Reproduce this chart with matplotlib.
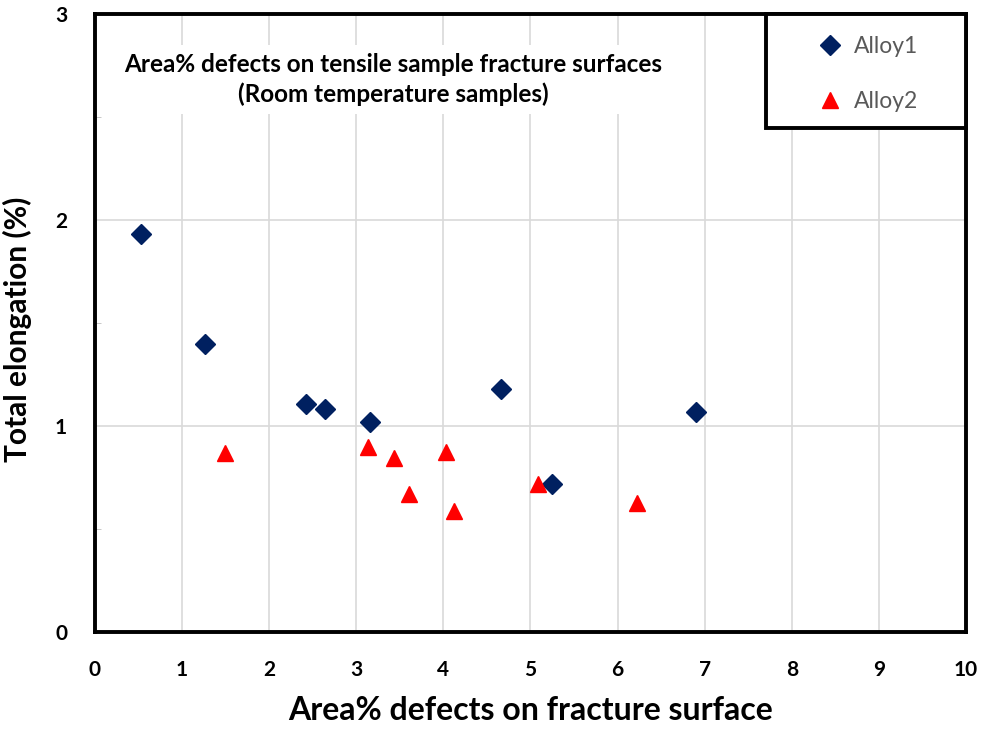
import matplotlib.pyplot as plt
from matplotlib.patches import Rectangle

# data
alloy1_x = [0.53, 1.26, 2.42, 2.64, 3.16, 4.66, 5.25, 6.90]
alloy1_y = [1.93, 1.40, 1.107, 1.083, 1.02, 1.18, 0.72, 1.07]
alloy2_x = [1.49, 3.14, 3.43, 3.60, 4.03, 4.12, 5.09, 6.22]
alloy2_y = [0.87, 0.90, 0.845, 0.67, 0.874, 0.587, 0.72, 0.626]

x_ticks = list(range(0, 11))
y_ticks = [0, 1, 2, 3]

title_text = "Area% defects on tensile sample fracture surfaces\n(Room temperature samples)"

plt.rcParams['font.family'] = ['Lato', 'DejaVu Sans']

fig = plt.figure(figsize=(9.82, 7.29), dpi=100)
ax = fig.add_axes([0.0967, 0.1331, 0.887, 0.8477])

ax.plot(alloy1_x, alloy1_y, linestyle='none', marker='D', ms=10,
        color='#002060', label='Alloy1', zorder=3)
ax.plot(alloy2_x, alloy2_y, linestyle='none', marker='^', ms=12,
        color='#ff0000', label='Alloy2', zorder=3)

ax.set_xlim(0, 10)
ax.set_ylim(0, 3)
ax.set_xticks(x_ticks)
ax.set_yticks(y_ticks)
ax.set_yticks([0.5, 1.5, 2.5], minor=True)
ax.grid(True, which='major', color='#d9d9d9', lw=1.2)
ax.set_axisbelow(True)

ax.tick_params(which='major', length=0, labelsize=15, pad=20)
ax.tick_params(axis='y', which='minor', length=4, direction='in', color='#bfbfbf')
for lab in ax.get_xticklabels() + ax.get_yticklabels():
    lab.set_fontweight('bold')

for sp in ax.spines.values():
    sp.set_linewidth(2.8)
    sp.set_color('black')

ax.set_xlabel('Area% defects on fracture surface', fontsize=23, fontweight='bold', labelpad=12)
ax.set_ylabel('Total elongation (%)', fontsize=21.5, fontweight='bold', labelpad=12)
ax.yaxis.set_label_coords(-0.072, 0.49)

ax.text(0.342, 0.894, title_text, transform=ax.transAxes, ha='center', va='center',
        fontsize=17.5, fontweight='bold', linespacing=1.35,
        bbox=dict(facecolor='white', edgecolor='none', pad=6), zorder=4)

# legend frame
ax.add_patch(Rectangle((0.770, 0.8155), 0.23, 0.1845, transform=ax.transAxes,
                       facecolor='white', edgecolor='black', lw=2.8, zorder=5,
                       clip_on=False))
leg = ax.legend(loc='upper left', bbox_to_anchor=(0.806, 0.997), frameon=False,
                fontsize=16.5, handletextpad=0.5, labelspacing=1.45, handlelength=1.1)
leg.set_zorder(6)
for t in leg.get_texts():
    t.set_color('#595959')

fig.savefig('out.png', dpi=100)
